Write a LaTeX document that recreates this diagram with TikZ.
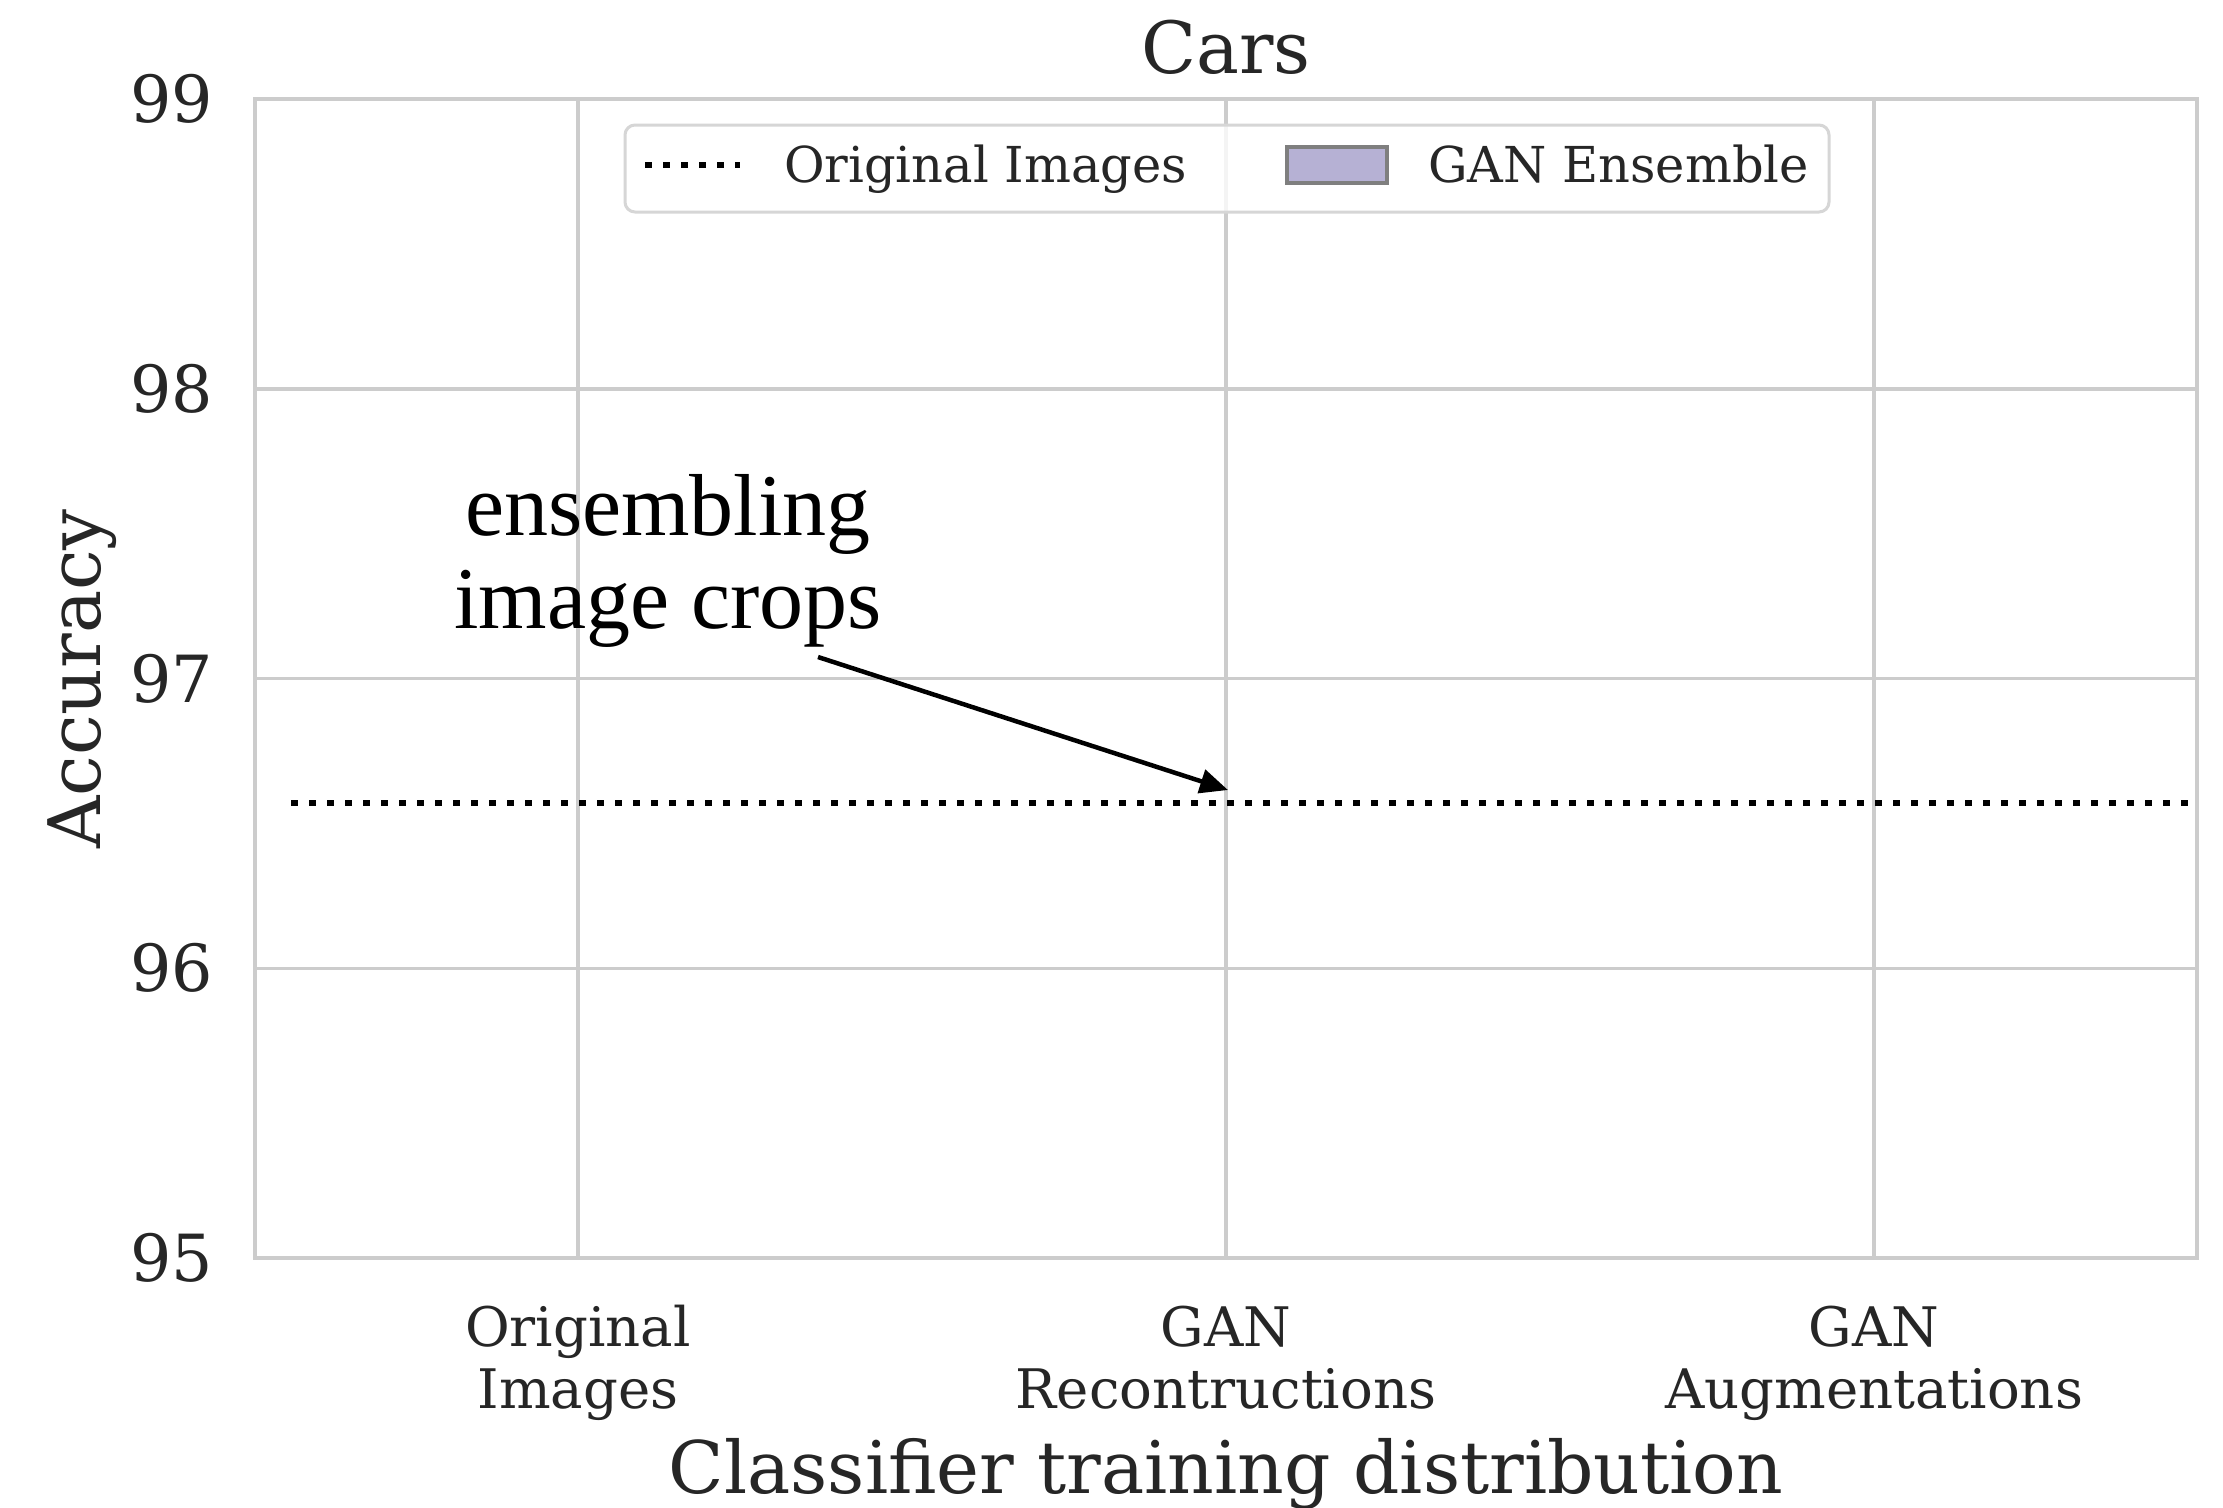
\documentclass[tikz,border=0pt]{standalone}
\usepackage{fontspec}
\setmainfont{DejaVu Serif}
\newfontfamily\annfont{Liberation Serif}
\usetikzlibrary{arrows.meta}
\definecolor{txt}{HTML}{262626}
\definecolor{gridc}{HTML}{CCCCCC}
\definecolor{legedge}{HTML}{D6D6D6}
\definecolor{lav}{RGB}{182,177,212}
\definecolor{patchedge}{HTML}{7F7F7F}
\begin{document}
\begin{tikzpicture}[x=1pt,y=-1pt,
  gridline/.style={draw=gridc, line width=3.5},
  spine/.style={draw=gridc, line width=4.5},
  refline/.style={draw=black, line width=5.5, dash pattern=on 6.5 off 11.5},
  yticklabel/.style={anchor=east, inner sep=0, text=txt, font=\fontsize{65}{78}\selectfont},
  xticklabel/.style={anchor=base, align=center, inner sep=0, text=txt, font=\fontsize{54.5}{62}\selectfont},
  axislabel/.style={anchor=base, inner sep=0, text=txt, font=\fontsize{72.5}{87}\selectfont},
  legtext/.style={anchor=base west, inner sep=0, text=txt, font=\fontsize{49.5}{59}\selectfont},
  legframe/.style={draw=legedge, line width=3, fill=white, fill opacity=0.8, rounded corners=10},
  legpatch/.style={fill=lav, draw=patchedge, line width=4},
  anntext/.style={anchor=base, align=center, inner sep=0, text=black, font=\annfont\fontsize{88}{93}\selectfont},
  annarrow/.style={draw=black, line width=4.5, -{Triangle[length=28pt,width=24pt]}}
]
\useasboundingbox (0,0) rectangle (2223,1507);
\fill[white] (0,0) rectangle (2223,1507);

% grid
\foreach \yy in {388.75,678.5,968.25}
  \draw[gridline] (255,\yy) -- (2197,\yy);
\foreach \xx in {578,1226,1874}
  \draw[gridline] (\xx,99) -- (\xx,1258);

% reference accuracy of the original images
\draw[refline] (291,803) -- (2190,803);

% axes frame
\draw[spine] (255,99) rectangle (2197,1258);

% y tick labels
\node[yticklabel] (y99) at (213,99) {99};
\node[yticklabel] (y98) at (213,388.75) {98};
\node[yticklabel] (y97) at (213,678.5) {97};
\node[yticklabel] (y96) at (213,968.25) {96};
\node[yticklabel] (y95) at (213,1258) {95};

% x tick labels (anchored on the baseline of their last line)
\node[xticklabel] (xorig) at (578,1408) {Original\\Images};
\node[xticklabel] (xrec) at (1226,1408) {GAN\\Recontructions};
\node[xticklabel] (xaug) at (1874,1408) {GAN\\Augmentations};

% title and axis labels
\node[axislabel, font=\fontsize{72}{86}\selectfont] (title) at (1226,73) {Cars};
\node[axislabel] (xlab) at (1226,1493) {Classifier training distribution};
\node[axislabel, rotate=90] (ylab) at (100,679) {Accuracy};

% legend
\draw[legframe] (625,125) rectangle (1829,212);
\draw[refline] (645,165) -- (740,165);
\node[legtext] (legorig) at (784,182) {Original Images};
\draw[legpatch] (1287,147) rectangle (1387,183);
\node[legtext] (legens) at (1428,182) {GAN Ensemble};

% annotation
\node[anntext] (ann) at (668,628) {ensembling\\image crops};
\coordinate (anntail) at (818,657);
\coordinate (anntip) at (1228,790);
\draw[annarrow] (anntail) -- (anntip);
\end{tikzpicture}
\end{document}
